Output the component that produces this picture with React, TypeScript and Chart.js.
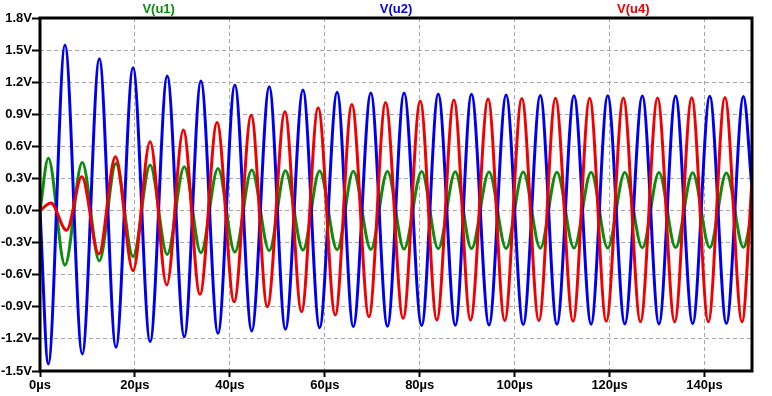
import { useEffect, useRef } from "react";
import { Chart, registerables } from "chart.js";

Chart.register(...registerables);

// Series names and colours (legend across the top)
const seriesNames = ["V(u1)", "V(u2)", "V(u4)"];
const seriesColors = ["#0c8c0c", "#0000f0", "#f00000"];

// Extrema times (µs) shared by V(u1) and V(u2)
const timeU1U2 = [
  0, 1.75, 5.26, 8.9, 12.5, 16.0, 19.6, 23.2, 26.8, 30.4,
  33.9, 37.5, 41.05, 44.6, 48.3, 51.7, 55.4, 58.9, 62.6, 66.0,
  69.7, 73.2, 76.7, 80.4, 83.9, 87.5, 90.9, 94.6, 98.2, 101.8,
  105.4, 108.9, 112.5, 116.1, 119.6, 123.2, 126.9, 130.4, 133.9, 137.5,
  141.1, 144.6, 148.2, 150,
];

// V(u1) values (V)
const voltU1 = [
  0, 0.488, -0.51, 0.45, -0.47, 0.44, -0.43, 0.425, -0.41, 0.41,
  -0.394, 0.394, -0.388, 0.378, -0.375, 0.372, -0.369, 0.37, -0.366, 0.368,
  -0.363, 0.366, -0.36, 0.364, -0.358, 0.362, -0.356, 0.36, -0.354, 0.36,
  -0.352, 0.358, -0.35, 0.358, -0.35, 0.356, -0.348, 0.356, -0.346, 0.354,
  -0.346, 0.352, -0.344, -0.02,
];

// V(u2) values (V)
const voltU2 = [
  0, -1.435, 1.547, -1.341, 1.42, -1.279, 1.335, -1.226, 1.257, -1.18,
  1.21, -1.148, 1.173, -1.125, 1.157, -1.11, 1.126, -1.095, 1.107, -1.086,
  1.1, -1.082, 1.098, -1.075, 1.089, -1.073, 1.087, -1.07, 1.08, -1.066,
  1.076, -1.064, 1.074, -1.062, 1.072, -1.06, 1.07, -1.06, 1.07, -1.058,
  1.068, -1.056, 1.066, 0.2,
];

// V(u4) extrema times (µs) and values (V)
const timeU4 = [
  0, 2.3, 5.6, 8.8, 12.4, 15.9, 19.6, 23.2, 26.7, 30.2,
  33.7, 37.3, 40.9, 44.5, 47.9, 51.6, 55.1, 58.6, 62.2, 65.7,
  69.3, 72.8, 76.5, 80.1, 83.6, 87.2, 90.7, 94.4, 97.9, 101.5,
  105.1, 108.6, 112.3, 115.8, 119.3, 122.9, 126.5, 130.1, 133.7, 137.3,
  140.8, 144.3, 147.9, 150,
];
const voltU4 = [
  0, 0.07, -0.185, 0.316, -0.406, 0.503, -0.562, 0.643, -0.696, 0.752,
  -0.783, 0.824, -0.852, 0.89, -0.899, 0.923, -0.945, 0.961, -0.977, 0.992,
  -0.992, 1.011, -1.008, 1.023, -1.023, 1.033, -1.023, 1.042, -1.03, 1.048,
  -1.03, 1.05, -1.035, 1.05, -1.035, 1.052, -1.038, 1.052, -1.04, 1.054,
  -1.04, 1.056, -1.04, 0.285,
];

// Axis ticks
const xTickValues = [0, 20, 40, 60, 80, 100, 120, 140];
const yTickValues = [-1.5, -1.2, -0.9, -0.6, -0.3, 0, 0.3, 0.6, 0.9, 1.2, 1.5, 1.8];

const FONT_FAMILY = "'Liberation Sans', Arial, sans-serif";

export default function App() {
  const ref = useRef<HTMLCanvasElement | null>(null);

  useEffect(() => {
    document.body.style.margin = "0";
    const pts = (t: number[], v: number[]) => t.map((x, i) => ({ x, y: v[i] }));

    const framePlugin = {
      id: "frameAndTitles",
      afterDatasetsDraw(chart: any) {
        const { ctx, chartArea: a } = chart;
        ctx.save();
        ctx.strokeStyle = "#000";
        ctx.lineWidth = 3;
        ctx.strokeRect(a.left, a.top, a.right - a.left, a.bottom - a.top);
        ctx.font = `bold 13px ${FONT_FAMILY}`;
        ctx.textAlign = "center";
        ctx.textBaseline = "middle";
        const w = a.right - a.left;
        seriesNames.forEach((n, i) => {
          ctx.fillStyle = seriesColors[i];
          ctx.fillText(n, a.left + (w * (2 * i + 1)) / 6, 9);
        });
        ctx.restore();
      },
    };

    const gridCommon = {
      color: "#a8a8a8",
      lineWidth: 1,
      tickColor: "#000",
      tickWidth: 2,
    };

    const chart = new Chart(ref.current as HTMLCanvasElement, {
      type: "line",
      data: {
        datasets: [
          {
            label: seriesNames[0],
            data: pts(timeU1U2, voltU1),
            borderColor: seriesColors[0],
            order: 3,
          },
          {
            label: seriesNames[1],
            data: pts(timeU1U2, voltU2),
            borderColor: seriesColors[1],
            order: 2,
          },
          {
            label: seriesNames[2],
            data: pts(timeU4, voltU4),
            borderColor: seriesColors[2],
            order: 1,
          },
        ],
      },
      options: {
        responsive: false,
        animation: false,
        layout: { padding: { top: 18, right: 20, left: 0, bottom: 0 } },
        plugins: { legend: { display: false }, tooltip: { enabled: false } },
        elements: {
          point: { radius: 0 },
          line: { borderWidth: 3, cubicInterpolationMode: "monotone", fill: false },
        },
        scales: {
          x: {
            type: "linear",
            min: 0,
            max: 150,
            afterBuildTicks: (s: any) => {
              s.ticks = xTickValues.map((v) => ({ value: v }));
            },
            afterFit: (s: any) => {
              s.height = 25;
            },
            grid: { ...gridCommon, tickLength: 6 },
            border: { display: false, dash: [4, 3] },
            ticks: {
              autoSkip: false,
              maxRotation: 0,
              color: "#000",
              padding: 1,
              font: { family: FONT_FAMILY, size: 13, weight: "bold" },
              callback: (v: any) => `${v}µs`,
            },
          },
          y: {
            type: "linear",
            min: -1.5,
            max: 1.8,
            afterBuildTicks: (s: any) => {
              s.ticks = yTickValues.map((v) => ({ value: v }));
            },
            afterFit: (s: any) => {
              s.width = 40;
            },
            grid: { ...gridCommon, tickLength: 8 },
            border: { display: false, dash: [4, 3] },
            ticks: {
              autoSkip: false,
              color: "#000",
              padding: 0,
              font: { family: FONT_FAMILY, size: 13, weight: "bold" },
              callback: (v: any) => `${Number(v).toFixed(1)}V`,
            },
          },
        },
      },
      plugins: [framePlugin],
    } as any);

    return () => chart.destroy();
  }, []);

  return <canvas ref={ref} width={772} height={396} style={{ display: "block" }} />;
}
